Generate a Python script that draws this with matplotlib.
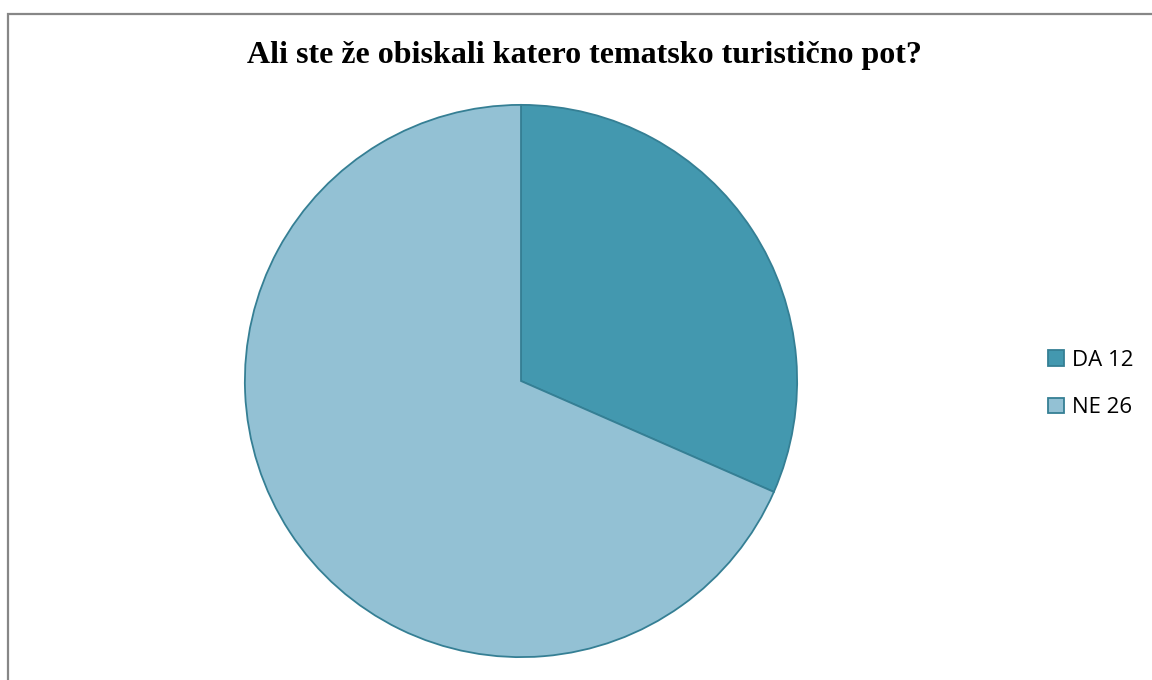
import matplotlib.pyplot as plt
from matplotlib.patches import Rectangle

# data
labels = ['DA 12', 'NE 26']
values = [12, 26]
colors = ['#4398AF', '#93C1D4']
edge_col = '#357F94'
title = 'Ali ste že obiskali katero tematsko turistično pot?'

W, H = 1152, 680
fig = plt.figure(figsize=(W/100, H/100), dpi=100)

# outer frame
fig.patches.append(Rectangle((8/W, -0.1), 1.2, (H-14)/H + 0.1, transform=fig.transFigure,
                             fill=False, edgecolor='#878787', linewidth=1.6))

cx, cy, r = 521, H-381, 277.5
ax = fig.add_axes([(cx-r)/W, (cy-r)/H, 2*r/W, 2*r/H])
wedges, _ = ax.pie(values, colors=colors, startangle=90, counterclock=False,
                   wedgeprops=dict(edgecolor=edge_col, linewidth=1.3))
ax.set_xlim(-1.005, 1.005)
ax.set_ylim(-1.005, 1.005)
ax.set_aspect('equal')

fig.text(584/W, 1-56/H, title, ha='center', va='center',
         fontfamily='Liberation Serif', fontweight='bold', fontsize=23)

leg = fig.legend(wedges, labels, loc='center left', bbox_to_anchor=(1028/W, 1-384/H),
                 frameon=False, prop={'family': 'Open Sans', 'size': 16},
                 handlelength=0.72, handleheight=0.72, handletextpad=0.36, labelspacing=1.2)
for h in leg.legend_handles:
    h.set_edgecolor(edge_col)

fig.savefig('out.png', dpi=100)
